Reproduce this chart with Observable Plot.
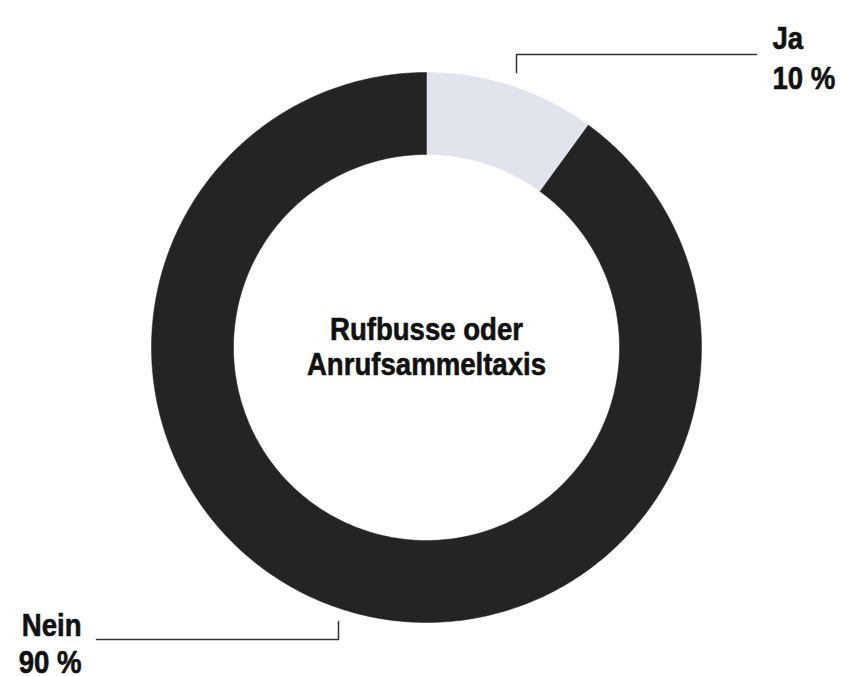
<!DOCTYPE html>
<html>
<head>
<meta charset="utf-8">
<script src="https://cdn.jsdelivr.net/npm/d3@7"></script>
<script src="https://cdn.jsdelivr.net/npm/@observablehq/plot@0.6"></script>
<style>
  html, body { margin: 0; padding: 0; background: #fff; }
  #chart svg { display: block; }
</style>
</head>
<body>
<div id="chart"></div>
<script>
// ---- data ----
const categories = ["Ja", "Nein"];
const values = [10, 90];
const valueLabels = ["10 %", "90 %"];
const colors = ["#e1e3ed", "#232423"];
const centerTitle = "Rufbusse oder\nAnrufsammeltaxis";

// ---- layout ----
const W = 841, H = 676;
const cx = 426, cy = 347, R = 275, r = 193;
const FONT = "'Liberation Sans', Arial, sans-serif";
const FS = 31;
const SQUEEZE = 0.89;

const pie = d3.pie().sort(null).value(d => d.value);
const arcs = pie(categories.map((c, i) => ({ category: c, value: values[i], label: valueLabels[i], color: colors[i] })));

// polygon points for each slice (angles measured clockwise from 12 o'clock)
const slicePts = [];
arcs.forEach(a => {
  const n = 400;
  const pts = [];
  for (let k = 0; k <= n; k++) {
    const t = a.startAngle + (a.endAngle - a.startAngle) * k / n;
    pts.push({ x: cx + R * Math.sin(t), y: cy - R * Math.cos(t) });
  }
  for (let k = n; k >= 0; k--) {
    const t = a.startAngle + (a.endAngle - a.startAngle) * k / n;
    pts.push({ x: cx + r * Math.sin(t), y: cy - r * Math.cos(t) });
  }
  pts.forEach(p => slicePts.push({ ...p, category: a.data.category, color: a.data.color }));
});

// leader lines
const leaders = [
  { category: "Ja", pts: [[516, cy - R], [516, 54], [756, 54]] },
  { category: "Nein", pts: [[338, cy + R - 1], [338, 639], [96, 639]] }
];
const leaderPts = leaders.flatMap(l => l.pts.map(([x, y]) => ({ x, y, category: l.category })));

const textCommon = {
  fontFamily: FONT, fontWeight: "bold", fontSize: FS, fill: "#111",
  stroke: "#111", strokeWidth: 0.6, lineAnchor: "middle"
};

const chart = Plot.plot({
  width: W,
  height: H,
  margin: 0,
  x: { type: "linear", domain: [0, W], range: [0, W], axis: null },
  y: { type: "linear", domain: [0, H], range: [0, H], axis: null },
  style: { background: "#fff" },
  marks: [
    Plot.line(slicePts, { x: "x", y: "y", z: "category", fill: "color", stroke: "color", strokeWidth: 0.5, curve: "linear" }),
    Plot.line(leaderPts, { x: "x", y: "y", z: "category", stroke: "#333", strokeWidth: 1.5 }),
    Plot.text([centerTitle], {
      ...textCommon, x: cx, y: 346, text: d => d, lineHeight: 1.13, textAnchor: "middle"
    }),
    Plot.text([categories[0] + "\n" + valueLabels[0]], {
      ...textCommon, x: 772, y: 56, text: d => d, lineHeight: 1.28, textAnchor: "start"
    }),
    Plot.text([categories[1] + "\n" + valueLabels[1]], {
      ...textCommon, x: 81, y: 642, text: d => d, lineHeight: 1.22, textAnchor: "end"
    })
  ]
});

// condense the bold type horizontally (the reference uses a condensed face)
d3.select(chart).selectAll("text").each(function () {
  const el = this;
  let tr = el.getAttribute("transform");
  if (!tr) {
    const x = +el.getAttribute("x") || 0, y = +el.getAttribute("y") || 0;
    el.removeAttribute("x"); el.removeAttribute("y");
    tr = `translate(${x},${y})`;
  }
  el.setAttribute("transform", tr + ` scale(${SQUEEZE},1)`);
});

document.getElementById("chart").appendChild(chart);
</script>
</body>
</html>
